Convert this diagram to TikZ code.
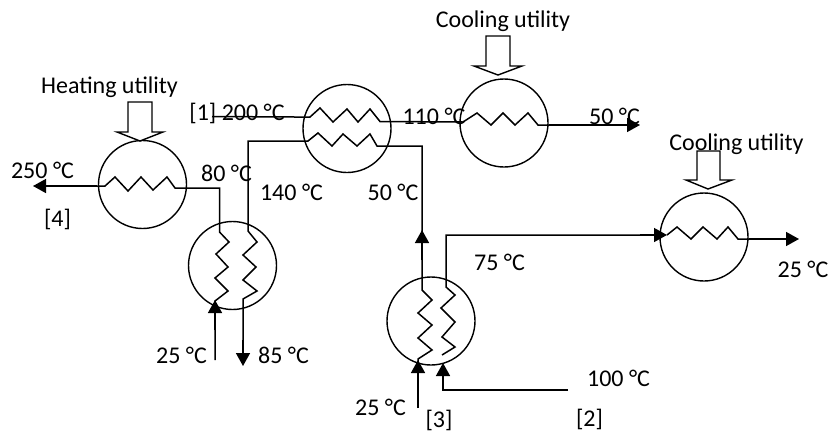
\documentclass[tikz,border=0pt]{standalone}
\usepackage{fontspec}
\setmainfont{Carlito}
\usetikzlibrary{arrows.meta}
\tikzset{
  x=1pt,y=-1pt,
  hx/.style={draw=black,circle,line width=1.4pt,minimum size=88pt,inner sep=0pt},
  wire/.style={draw=black,line width=1.5pt,line join=miter},
  flow/.style={wire,-{Triangle[length=13pt,width=14pt]}},
  util/.style={draw=black,line width=1.4pt,fill=white,line join=miter},
  lbl/.style={font=\fontsize{24pt}{26pt}\selectfont,inner sep=0pt,text=black}
}
\begin{document}
\begin{tikzpicture}
\useasboundingbox[fill=white] (0,0) rectangle (830,432);
% exchangers
\node[hx] (H)  at (142.5,184.5) {};
\node[hx] (E3) at (232.5,265.5) {};
\node[hx] (E1) at (347,128.5) {};
\node[hx] (C1) at (504,123) {};
\node[hx] (C2) at (704,237) {};
\node[hx] (E2) at (431,321) {};
% free ends
\coordinate (s1) at (212,116.5);
\coordinate (e1) at (640,125);
\coordinate (e4) at (33,186);
\coordinate (s4) at (215,360);
\coordinate (e4b) at (243,366);
\coordinate (s3) at (418,408);
\coordinate (s2) at (568,390);
\coordinate (e2) at (799,239);
% stream 1
\draw[wire] (s1) -- (295,117) -- (310,117) -- (320,108) -- (333,122) -- (347,109) -- (358,122) -- (370,109) -- (380,121.5) -- (463,122) -- (477,113) -- (491,125) -- (503,113) -- (515,125) -- (528,113) -- (538,125) -- (549,125);
\draw[flow] (549,125) -- (e1);
% stream 4
\draw[wire] (s4) -- (215,301) -- (228,291) -- (215,278) -- (228,267) -- (216,254) -- (229,242) -- (219.5,232) -- (219.5,188) -- (175,188) -- (167,177) -- (153,190) -- (141,177) -- (128,191) -- (115,177) -- (105,186) -- (97,186);
\draw[flow] (215,330) -- (215,300);
\draw[flow] (97,186) -- (e4);
% stream 3 (middle)
\draw[wire] (418,385) -- (418,359) -- (432,350) -- (418,338) -- (432,325) -- (418,313) -- (432,300) -- (422,290) -- (422,146) -- (377,146) -- (370,134) -- (357,146) -- (343,134) -- (332,146) -- (318,133) -- (308,141) -- (248,141) -- (248,231) -- (257,242) -- (243,255) -- (256,267) -- (243,280) -- (257,291) -- (243,299) -- (243,340);
\draw[flow] (243,340) -- (e4b);
\draw[flow] (422,260) -- (422,230);
\draw[flow] (s3) -- (418,360);
% stream 2
\draw[wire] (s2) -- (443,390) -- (443,375);
\draw[flow] (443,385) -- (443,363);
\draw[wire] (442,355) -- (455,347) -- (442,337) -- (455,322) -- (441,308) -- (455,295) -- (446,287) -- (446,235) -- (640,235);
\draw[flow] (640,235) -- (667,235);
\draw[wire] (667,235) -- (677,227) -- (691,239) -- (703,227) -- (717,239) -- (728,227) -- (738,239) -- (749,239);
\draw[flow] (749,239) -- (e2);
% utility arrows
\draw[util] (128,102) -- (152,102) -- (152,132) -- (163,132) -- (140,141) -- (117,132) -- (128,132) -- cycle;
\draw[util] (486,36) -- (510,36) -- (510,66) -- (522,66) -- (498,75) -- (474,66) -- (486,66) -- cycle;
% labels
\node[lbl] (lh) at (109.5,87) {Heating utility};
\node[lbl] (lc1) at (503,21) {Cooling utility};
\node[lbl] (lc2) at (736.5,144) {Cooling utility};
\draw[util,fill=none] (697,180) -- (697,151) -- (720,151) -- (720,180) -- (732,180) -- (708,189) -- (686,180) -- cycle;
\node[lbl] (t1) at (237,113) {[1] 200 °C};
\node[lbl] (t2) at (42.5,170) {250 °C};
\node[lbl] (t3) at (57.5,219) {[4]};
\node[lbl] (t4) at (226.5,173) {80 °C};
\node[lbl] (t5) at (291.5,192) {140 °C};
\node[lbl] (t6) at (393,192) {50 °C};
\node[lbl] (t7) at (181.5,355) {25 °C};
\node[lbl] (t8) at (283.5,355) {85 °C};
\node[lbl] (t9) at (434,116) {110 °C};
\node[lbl] (t10) at (614.5,116) {50 °C};
\node[lbl] (t11) at (499.5,262) {75 °C};
\node[lbl] (t12) at (803,269) {25 °C};
\node[lbl] (t13) at (618.5,378) {100 °C};
\node[lbl] (t14) at (589.5,419) {[2]};
\node[lbl] (t15) at (439,420) {[3]};
\node[lbl] (t16) at (380.5,407) {25 °C};
\end{tikzpicture}
\end{document}
